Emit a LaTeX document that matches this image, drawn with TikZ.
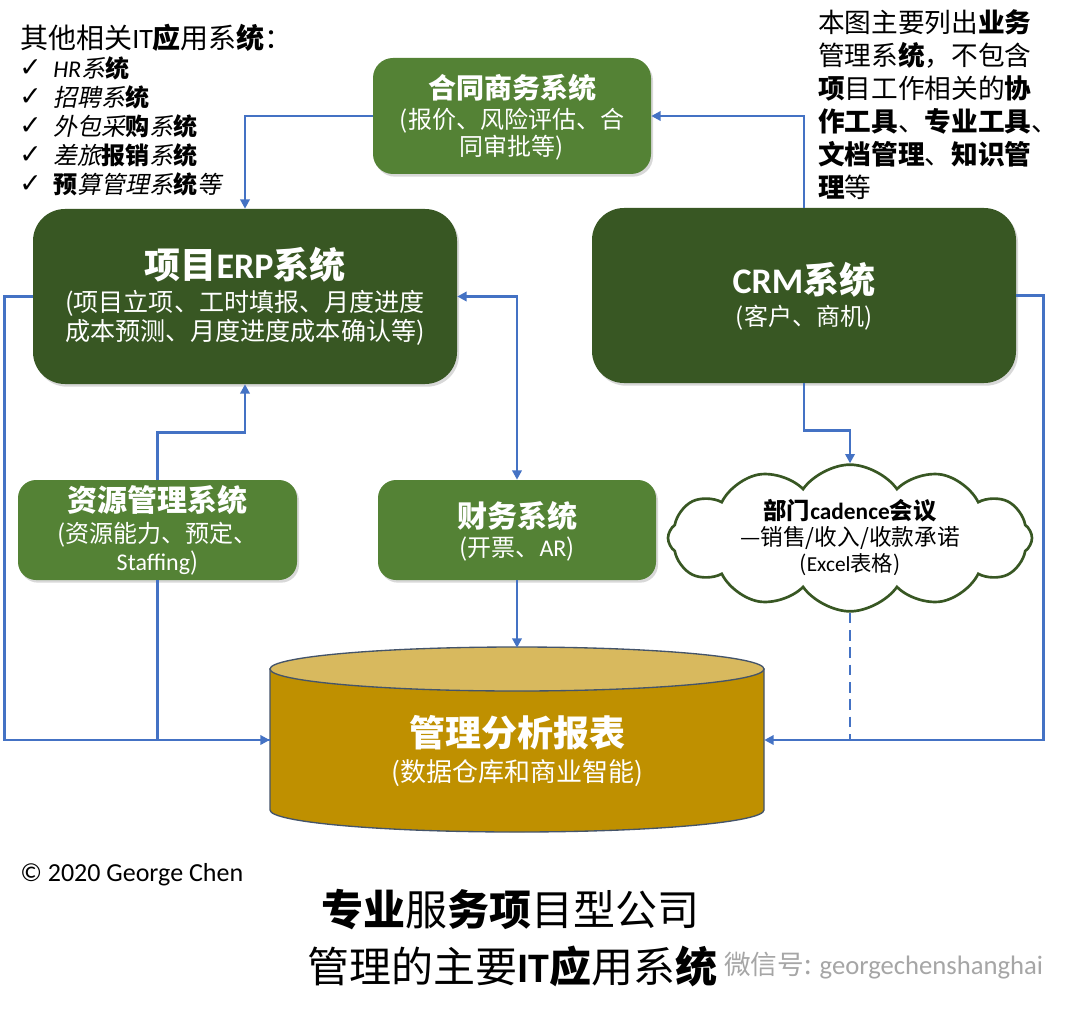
\documentclass[tikz,border=0pt]{standalone}
\usepackage{fontspec}
\setmainfont{Noto Sans CJK SC}[AutoFakeSlant=0.2]
\newfontfamily\latf{Carlito}
\newfontfamily\symf{DejaVu Sans}
\newcommand\lat[1]{{\latf #1}}
\usetikzlibrary{shapes.symbols,shadows,arrows.meta}
\definecolor{mgreen}{HTML}{548235}
\definecolor{dgreen}{HTML}{385723}
\definecolor{cblue}{HTML}{4472C4}
\definecolor{goldc}{HTML}{BF9000}
\definecolor{lgold}{HTML}{D8B95E}
\definecolor{cyledge}{HTML}{44546A}
\begin{document}
\begin{tikzpicture}[x=0.75pt,y=-0.75pt,
  gbox/.style={inner sep=0pt, drop shadow={opacity=0.3, shadow xshift=1.5pt, shadow yshift=-2pt}},
  txt/.style={text=white, inner sep=0pt, align=center},
  btxt/.style={text=black, inner sep=0pt},
  conn/.style={draw=cblue, line width=2pt},
  arr/.style={conn, -{Triangle[length=7pt,width=7pt]}},
  fs/.style 2 args={font=\fontsize{#1pt}{#2pt}\selectfont}]
\fill[white] (0,0) rectangle (1080,1016);
\useasboundingbox (0,0) rectangle (1080,1016);

% boxes
\node[gbox, fill=mgreen, rounded corners=15pt, minimum width=208.5pt, minimum height=87pt] (ht) at (512,116) {};
\node[gbox, fill=dgreen, rounded corners=24pt, minimum width=318pt, minimum height=131.25pt] (erp) at (245,296.5) {};
\node[gbox, fill=dgreen, rounded corners=24pt, minimum width=318pt, minimum height=131.25pt] (crm) at (804,295.5) {};
\node[gbox, fill=mgreen, rounded corners=13.5pt, minimum width=209.25pt, minimum height=75pt] (zy) at (157.5,530) {};
\node[gbox, fill=mgreen, rounded corners=13.5pt, minimum width=208.5pt, minimum height=75pt] (cw) at (517,530) {};
\node[cloud, cloud puffs=12, cloud puff arc=110, aspect=2.5, draw=dgreen, line width=2pt, fill=white,
      minimum width=273pt, minimum height=110pt, inner sep=0pt] (cloud) at (850,538) {};

% cylinder
\node[inner sep=0pt, minimum width=370.5pt, minimum height=138pt] (db) at (517,740) {};
\path[fill=goldc, draw=cyledge, line width=1pt] (270,669) -- (270,810)
  arc[start angle=180, end angle=360, x radius=185.25pt, y radius=16.5pt] -- (764,669) -- cycle;
\path[fill=lgold, draw=cyledge, line width=1pt] (517,669) ellipse[x radius=185.25pt, y radius=16.5pt];

% box texts
\node[txt, fs={21}{25}] (htt) at (512,88) {\bfseries 合同商务系统};
\node[txt, fs={18}{20.25}] (hts) at (512,134.5) {(报价、风险评估、合\\同审批等)};
\node[txt, fs={27}{32}] (erpt) at (245,265) {\bfseries 项目\lat{ERP}系统};
\node[txt, fs={18.8}{21.75}] (erps) at (245,317.5) {(项目立项、工时填报、月度进度\\成本预测、月度进度成本确认等)};
\node[txt, fs={27}{32}] (crmt) at (804,280) {\bfseries \lat{CRM}系统};
\node[txt, fs={18}{21}] (crms) at (804,318) {(客户、商机)};
\node[txt, fs={22.5}{26}] (zyt) at (157.5,500) {\bfseries 资源管理系统};
\node[txt, fs={18}{21}] (zys) at (157.5,549) {(资源能力、预定、\\\lat{Staffing})};
\node[txt, fs={22.5}{26}] (cwt) at (517,516) {\bfseries 财务系统};
\node[txt, fs={18}{21}] (cws) at (517,549) {(开票、\lat{AR})};
\node[btxt, fs={17.5}{20}] (clt) at (850,511) {\bfseries 部门\lat{cadence}会议};
\node[btxt, fs={17}{20}] (cls) at (850,538) {—销售/收入/收款承诺};
\node[btxt, fs={16}{20}] (clx) at (850,565) {(\lat{Excel}表格)};
\node[txt, fs={27}{32}] (dbt) at (517,733) {\bfseries 管理分析报表};
\node[txt, fs={19.5}{23}] (dbs) at (517,773) {(数据仓库和商业智能)};

% connectors
\draw[arr] (crm.north) |- (ht.east);
\draw[arr] (ht.west) -| (erp.north);
\draw[conn, {Triangle[length=7pt,width=7pt]}-{Triangle[length=7pt,width=7pt]}] (erp.east) -| (cw.north);
\draw[arr] (zy.north) -- ++(0,-47) -| (erp.south);
\draw[arr] (erp.west) -- ++(-28,0) |- (db.west);
\draw[conn] (zy.south) |- (db.west);
\draw[arr] (cw.south) -- (cw.south |- db.north);
\draw[arr] (crm.south) -- ++(0,47) -| (cloud.north);
\draw[arr] (crm.east) -- ++(27,0) |- (db.east);
\draw[conn, dash pattern=on 8pt off 5pt] (cloud.south) -- (cloud.south |- db.east);

% top-left list
\node[btxt, anchor=west, fs={21}{24}] (oth) at (20,38) {其他相关\lat{IT}\textbf{应}用系\textbf{统}：};
\foreach \yy/\tt [count=\i] in {68/{\lat{HR}系\textbf{统}}, 97/{招聘系\textbf{统}}, 126/{外包采\textbf{购}系\textbf{统}}, 155/{差旅\textbf{报销}系\textbf{统}}, 184/{\textbf{预}算管理系\textbf{统}等}}{
  \node[btxt, anchor=west, fs={20}{22}] (ck\i) at (19,\yy) {\symf\bfseries ✓};
  \node[btxt, anchor=west, fs={18}{21}] (it\i) at (53,\yy) {\itshape \tt};
}

% top-right note
\node[btxt, anchor=west, align=left, fs={20}{24.75}] (note) at (818,104.5)
 {本图主要列出\textbf{业务}\\管理系\textbf{统}，不包含\\\textbf{项}目工作相关的\textbf{协}\\\textbf{作工具}、\textbf{专业工具}、\\\textbf{文档管理}、\textbf{知识管}\\\textbf{理}等};

% copyright and title
\node[btxt, anchor=west, fs={19.5}{23}] (copy) at (20,875) {\latf © 2020 George Chen};
\node[btxt, fs={31.5}{36}] (ti1) at (510,910) {\textbf{专业}服\textbf{务项}目型公司};
\node[btxt, fs={31.5}{36}] (ti2) at (512,966) {管理的主要\lat{\bfseries IT}\textbf{应}用系\textbf{统}};
\node[inner sep=0pt, anchor=west, text=black!35, fs={20}{24}] (wm) at (724,966) {微信号: \latf georgechenshanghai};
\end{tikzpicture}
\end{document}
